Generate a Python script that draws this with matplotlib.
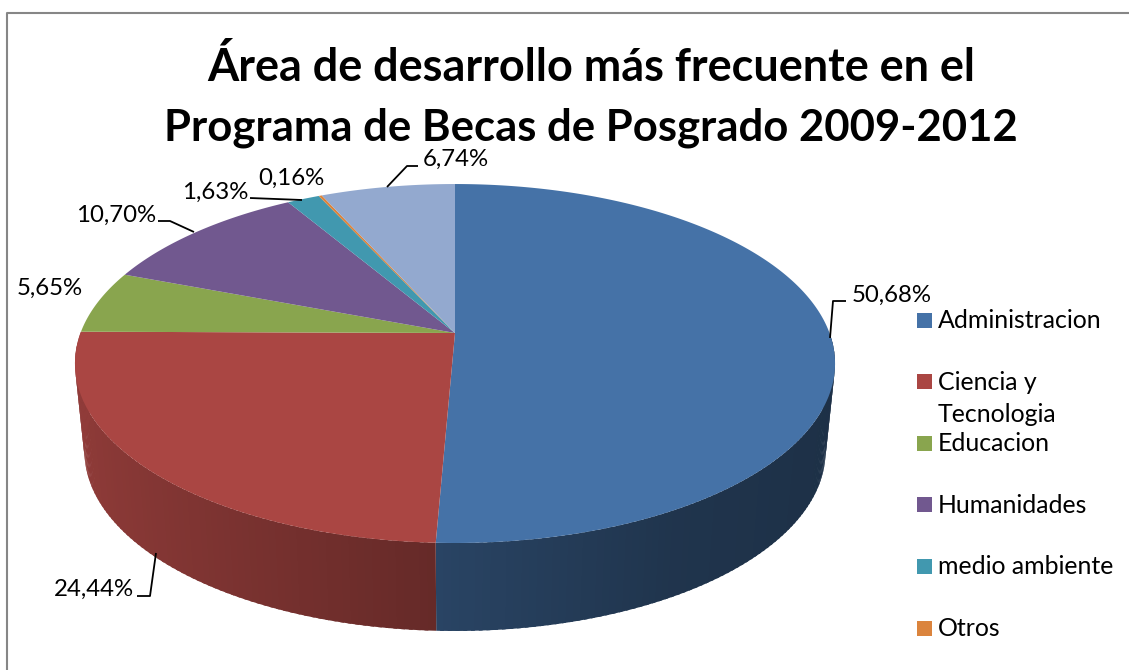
import numpy as np
import matplotlib
matplotlib.use('Agg')
import matplotlib.pyplot as plt
from matplotlib.collections import PolyCollection
from matplotlib.colors import to_rgb
from matplotlib.patches import Rectangle

plt.rcParams['font.family'] = ['Lato', 'DejaVu Sans']

categorias = ['Administracion', 'Ciencia y\nTecnologia', 'Educacion', 'Humanidades',
              'medio ambiente', 'Otros']
valores = [50.68, 24.44, 5.65, 10.70, 1.63, 0.16, 6.74]
etiquetas = ['50,68%', '24,44%', '5,65%', '10,70%', '1,63%', '0,16%', '6,74%']
colores = ['#4572A7', '#AA4643', '#89A54E', '#71588F', '#4198AF', '#DB843D', '#93A9CF']

titulo = ['Área de desarrollo más frecuente en el', 'Programa de Becas de Posgrado 2009-2012']
tam_titulo = [32.4, 31.4]

# layout in image pixels
cx, cy = 455, 333
a, b, k = 374.5, 174.3, 0.17
alto = 88
ancho_base = 0.975

pos_etiquetas = [(852, 302), (54, 596), (17, 295), (76, 222), (182, 199), (258, 185), (423, 166)]
guias = [
    [(830, 338), (833, 301), (846, 301)],
    [(156, 553), (150, 596), (137, 596)],
    [(158, 221), (170, 221), (194, 232)],
    [(250, 198), (302, 200)],
    [(387, 187), (407, 166), (418, 166)],
]


def proyectar(t):
    X = np.sin(t)
    Y = np.cos(t)
    w = 1 + k * Y
    return cx + a * X / w, cy - b * Y / w


def sombra(t):
    return np.interp(np.sin(t), [-1, -0.05, 0.5, 1], [0.85, 0.60, 0.46, 0.42])


fig = plt.figure(figsize=(11.29, 6.70), dpi=100)
ax = fig.add_axes([0, 0, 1, 1])
ax.set_xlim(0, 1129)
ax.set_ylim(670, 0)
ax.axis('off')

ax.plot([6.5, 6.5, 1129], [670, 12.5, 12.5], color='#868686', lw=1.5, zorder=1)

limites = np.radians(np.cumsum([0] + valores) * 3.6)

# side wall first, the top covers what is behind it
polys = []
cols = []
for i, c in enumerate(colores):
    n = max(2, int(np.degrees(limites[i + 1] - limites[i])))
    ts = np.linspace(limites[i], limites[i + 1], n)
    paso = ts[1] - ts[0]
    for t0 in ts[:-1]:
        if np.cos(t0) > 0:
            continue
        # each slice runs a bit under the next one so no seams show
        t1 = min(t0 + paso * 1.5, limites[i + 1])
        x0, y0 = proyectar(t0)
        x1, y1 = proyectar(t1)
        polys.append([(x0, y0), (x1, y1),
                      (cx + (x1 - cx) * ancho_base, y1 + alto),
                      (cx + (x0 - cx) * ancho_base, y0 + alto)])
        cols.append(np.array(to_rgb(c)) * sombra(t0 + paso / 2))
ax.add_collection(PolyCollection(polys, facecolors=cols, edgecolors='none', zorder=2))

# top face
for i, c in enumerate(colores):
    ts = np.linspace(limites[i], limites[i + 1], max(3, int(np.degrees(limites[i + 1] - limites[i]) * 2)))
    xs, ys = proyectar(ts)
    ax.fill(np.r_[cx, xs], np.r_[cy, ys], facecolor=c, edgecolor='none', zorder=3)

for g in guias:
    ax.plot(*zip(*g), color='black', lw=1.3, zorder=4, solid_capstyle='butt')

for txt, (x, y) in zip(etiquetas, pos_etiquetas):
    ax.text(x, y, txt, fontsize=17.3, color='black', ha='left', va='baseline', zorder=5)

for j, linea in enumerate(titulo):
    ax.text(591, 81 + 60 * j, linea, fontsize=tam_titulo[j], fontweight='bold', color='black',
            ha='center', va='baseline', zorder=5)

# legend
for i, nombre in enumerate(categorias):
    yc = 320 + i * 61.6
    ax.add_patch(Rectangle((917, yc - 7.5), 15, 15, facecolor=colores[i], edgecolor='none', zorder=5))
    for j, linea in enumerate(nombre.split('\n')):
        ax.text(938, yc + 8 + 32 * j, linea, fontsize=17.9, color='black', ha='left', va='baseline', zorder=5)

fig.savefig('out.png', dpi=100)
